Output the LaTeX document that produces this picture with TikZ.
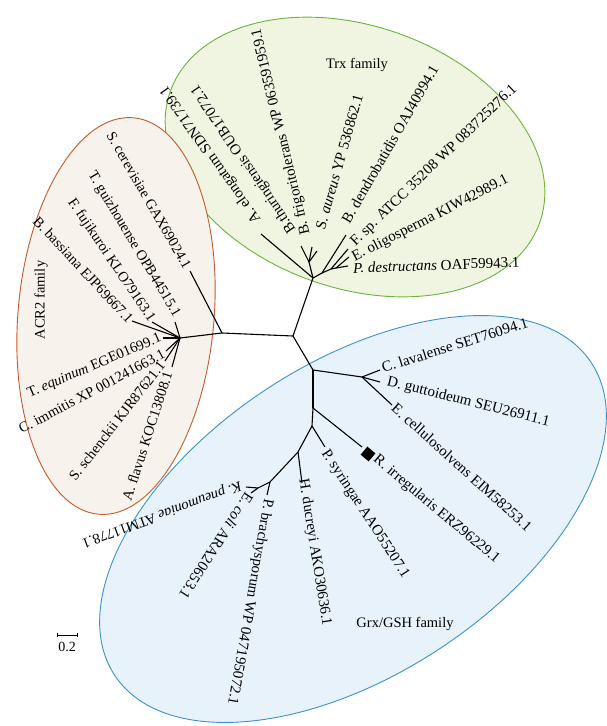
\documentclass[tikz,border=0pt]{standalone}
\usepackage{fontspec}
\setmainfont{Liberation Serif}
\definecolor{trxfill}{HTML}{EFF5E1}
\definecolor{trxline}{HTML}{6CB33E}
\definecolor{acrfill}{HTML}{F8F2EC}
\definecolor{acrline}{HTML}{C55A28}
\definecolor{grxfill}{HTML}{E8F2FB}
\definecolor{grxline}{HTML}{3A92CF}
\begin{document}
\begin{tikzpicture}[x=1pt,y=-1pt,
  lab/.style={font=\fontsize{15}{17}\selectfont, inner sep=0pt},
  laba/.style={font=\fontsize{14.5}{16}\selectfont, inner sep=0pt},
  fam/.style={font=\fontsize{14.5}{16}\selectfont, inner sep=0pt},
  br/.style={line width=1.1pt, black},
  grp/.style={line width=0.9pt}]
\useasboundingbox (0,0) rectangle (606,726);
% family ellipses
\draw[grp, draw=trxline, fill=trxfill, rotate around={-19.6:(355,157)}] (355,157) ellipse [x radius=196pt, y radius=131pt];
\draw[grp, draw=acrline, fill=acrfill, rotate around={-5:(116,316)}] (116,316) ellipse [x radius=98pt, y radius=199pt];
\draw[grp, draw=grxline, fill=grxfill, rotate around={33.2:(353,519)}] (353,519) ellipse [x radius=285pt, y radius=156pt];
% tree coordinates
\coordinate (C) at (293,336);
% Trx
\coordinate (JT) at (313,278);
\coordinate (tAe) at (261,234);
\coordinate (N1) at (309,262);
\coordinate (tBt) at (301,246);
\coordinate (tBf) at (312,247);
\coordinate (tSa) at (317,251);
\coordinate (N2) at (322,273);
\coordinate (tBd) at (346,235);
\coordinate (N3) at (331,269);
\coordinate (tFs) at (348,249);
\coordinate (N4) at (336,268);
\coordinate (tEo) at (349,257);
\coordinate (tPd) at (348,266);
% ACR2
\coordinate (A1) at (222,333);
\coordinate (tSc) at (190,271);
\coordinate (A2) at (180,338);
\coordinate (tBb) at (132,321);
\coordinate (tFf) at (152,322);
\coordinate (tTg) at (175,322);
\coordinate (tTe) at (163,338);
\coordinate (tCi) at (166,351);
\coordinate (tSs) at (165,361);
\coordinate (tAf) at (172,367);
% Grx
\coordinate (G1) at (313,370);
\coordinate (GC) at (362,377);
\coordinate (tCl) at (380,370);
\coordinate (tDg) at (380,382);
\coordinate (tEc) at (392,405);
\coordinate (G2) at (313,408);
\coordinate (tRi) at (362,447);
\coordinate (G3) at (312,426);
\coordinate (tPs) at (325,447);
\coordinate (G4) at (298,452);
\coordinate (tHd) at (302,483);
\coordinate (G5) at (270,482);
\coordinate (tPb) at (267,495);
\coordinate (G6) at (258,488);
\coordinate (tKp) at (246,487);
\coordinate (tEco) at (251,493);
% branches
\draw[br] (C) -- (JT);
\draw[br] (JT) -- (tAe);
\draw[br] (JT) -- (N1);
\draw[br] (N1) -- (tBt);
\draw[br] (N1) -- (tBf);
\draw[br] (N1) -- (tSa);
\draw[br] (JT) -- (N2);
\draw[br] (N2) -- (tBd);
\draw[br] (N2) -- (N3);
\draw[br] (N3) -- (tFs);
\draw[br] (N3) -- (N4);
\draw[br] (N4) -- (tEo);
\draw[br] (N4) -- (tPd);
\draw[br] (C) -- (A1);
\draw[br] (A1) -- (tSc);
\draw[br] (A1) -- (A2);
\draw[br] (A2) -- (tBb);
\draw[br] (A2) -- (tFf);
\draw[br] (A2) -- (tTg);
\draw[br] (A2) -- (tTe);
\draw[br] (A2) -- (tCi);
\draw[br] (A2) -- (tSs);
\draw[br] (A2) -- (tAf);
\draw[br] (C) -- (G1);
\draw[br] (G1) -- (GC);
\draw[br] (GC) -- (tCl);
\draw[br] (GC) -- (tDg);
\draw[br] (GC) -- (tEc);
\draw[br] (G1) -- (G2);
\draw[br] (G2) -- (tRi);
\draw[br] (G2) -- (G3);
\draw[br] (G3) -- (tPs);
\draw[br] (G3) -- (G4);
\draw[br] (G4) -- (tHd);
\draw[br] (G4) -- (G5);
\draw[br] (G5) -- (tPb);
\draw[br] (G5) -- (G6);
\draw[br] (G6) -- (tKp);
\draw[br] (G6) -- (tEco);
% marker
\node[fill=black, minimum size=10.5pt, inner sep=0pt, rotate=-40] (sq) at (368,454) {};
% Trx labels
\node[lab, anchor=west, rotate=125] (lAe) at (258,222) {A. elongatum SDN71739.1};
\node[lab, anchor=west, rotate=124] (lBt) at (293,232) {B.thuringiensis OUB17072.1};
\node[lab, anchor=west, rotate=103.5] (lBf) at (306,235) {B. frigoritolerans WP 063591959.1};
\node[lab, anchor=west, rotate=74] (lSa) at (320,229) {S. \textit{aureus} YP 536862.1};
\node[lab, anchor=west, rotate=60] (lBd) at (345,222) {B. dendrobatidis OAJ40994.1};
\node[lab, anchor=west, rotate=44] (lFs) at (353,244) {F. sp. ATCC 35208 WP 083725276.1};
\node[lab, anchor=west, rotate=27] (lEo) at (353,258) {E. oligosperma KIW42989.1};
\node[lab, anchor=west, rotate=2] (lPd) at (353,268) {\textit{P. destructans} OAF59943.1};
% ACR2 labels
\node[laba, anchor=east, rotate=-60] (lSc) at (188,268) {S. cerevisiae GAX69024.1};
\node[laba, anchor=east, rotate=-59] (lTg) at (177,316) {T. guizhouense OPB44515.1};
\node[laba, anchor=east, rotate=-56] (lFf) at (152,321) {F. fujikuroi KLO79163.1};
\node[laba, anchor=east, rotate=-47] (lBb) at (131,321) {B. bassiana EJP69667.1};
\node[laba, anchor=east, rotate=23] (lTe) at (161,338) {T. \textit{equinum} EGE01699.1};
\node[laba, anchor=east, rotate=28] (lCi) at (164,353) {C. immitis XP 001241663.1};
\node[laba, anchor=east, rotate=52] (lSs) at (162,363) {S. schenckii KJR87621.1};
\node[laba, anchor=east, rotate=72] (lAf) at (168,372) {A. flavus KOC13808.1};
% Grx labels
\node[lab, anchor=west, rotate=17.5] (lCl) at (382,368) {C. lavalense SET76094.1};
\node[lab, anchor=west, rotate=-14] (lDg) at (387,382) {D. guttoideum SEU26911.1};
\node[lab, anchor=west, rotate=-42] (lEc) at (394,406) {E. cellulosolvens EIM58253.1};
\node[lab, anchor=west, rotate=-40] (lRi) at (375,458) {R. irregularis ERZ96229.1};
\node[lab, anchor=west, rotate=-57] (lPs) at (324,451) {P. syringae AAO55207.1};
\node[lab, anchor=west, rotate=-81] (lHd) at (303,479) {H. ducreyi AKO30636.1};
\node[lab, anchor=west, rotate=-100] (lPb) at (268,499) {P. brachysporum WP 047195072.1};
\node[lab, anchor=west, rotate=-123] (lEco) at (250,494) {E. \textit{coli} ARA20653.1};
\node[laba, anchor=west, rotate=-160] (lKp) at (241,485) {\textit{K. pneumoniae} ATM11778.1};
% family names
\node[fam] (fTrx) at (357,65) {Trx family};
\node[fam, rotate=90] (fAcr) at (41,300) {ACR2 family};
\node[fam] (fGrx) at (405,624) {Grx/GSH family};
% scale bar
\coordinate (s1) at (57,635);
\coordinate (s2) at (77,635);
\draw[line width=0.8pt] (s1) -- (s2);
\draw[line width=0.8pt] ([yshift=-2pt]s1) -- ([yshift=2pt]s1);
\draw[line width=0.8pt] ([yshift=-2pt]s2) -- ([yshift=2pt]s2);
\node[fam, font=\fontsize{14}{16}\selectfont] (sl) at (67,647) {0.2};
\end{tikzpicture}
\end{document}
